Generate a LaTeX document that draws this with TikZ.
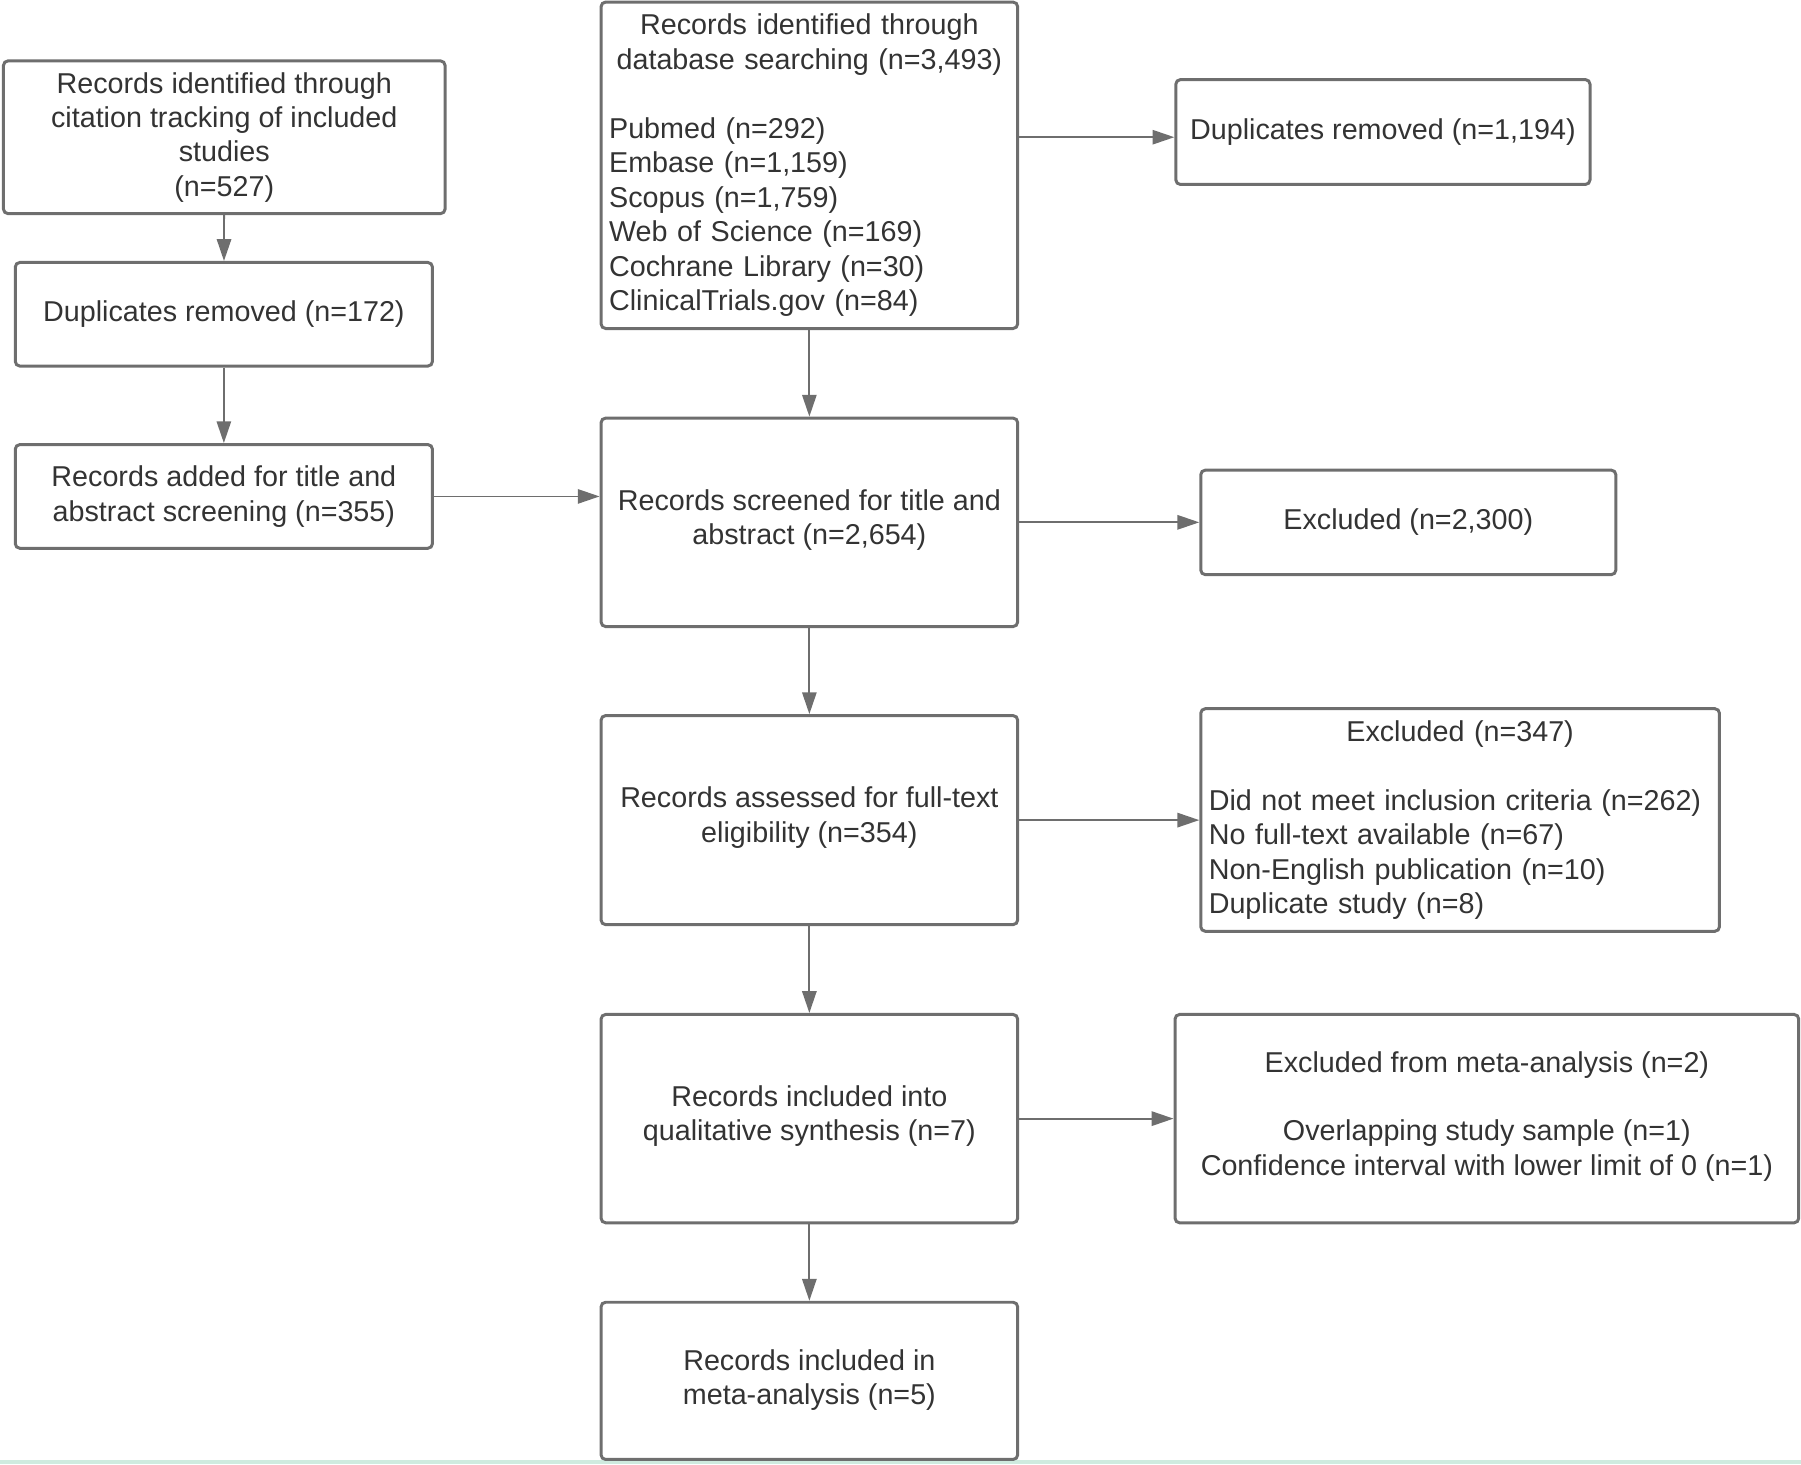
\documentclass[tikz,border=0pt]{standalone}
\usepackage{fontspec}
\setmainfont{Liberation Sans}
\usetikzlibrary{arrows.meta}
\definecolor{bordergray}{HTML}{6E6E6E}
\definecolor{txtgray}{HTML}{333333}
\definecolor{mint}{HTML}{CFEBDF}
\begin{document}
\begin{tikzpicture}[x=1pt,y=-1pt,
  box/.style={draw=bordergray, line width=2.6pt, rounded corners=4pt, text=txtgray,
    font=\fontsize{25}{30}\selectfont, align=center, inner sep=0pt},
  raised/.style={text depth=9.3pt},
  arr/.style={draw=bordergray, line width=1.6pt, -{Triangle[length=19pt,width=12.5pt]}}]
\useasboundingbox (0,0) rectangle (1568,1275);
\fill[mint] (0,1271.5) rectangle (1568,1275);

% left column
\node[box, minimum width=384.5pt, minimum height=133pt] (A) at (195.25,119.5)
  {Records identified through\\citation tracking of included\\studies\\(n=527)};
\node[box, minimum width=363.2pt, minimum height=90.2pt] (B) at (194.9,273.6)
  {Duplicates removed (n=172)};
\node[box, minimum width=363.2pt, minimum height=90.3pt] (C) at (194.9,432.2)
  {Records added for title and\\abstract screening (n=355)};

% centre column
\node[box, minimum width=362.7pt, minimum height=284.2pt, text width=348.7pt, align=left] (D) at (704.65,143.9)
  {\makebox[348.7pt][c]{Records identified through}\\
   \makebox[348.7pt][c]{database searching (n=3,493)}\\[30pt]
   Pubmed (n=292)\\
   Embase (n=1,159)\\
   Scopus (n=1,759)\\
   Web of Science (n=169)\\
   Cochrane Library (n=30)\\
   ClinicalTrials.gov (n=84)};
\node[box, raised, minimum width=362.7pt, minimum height=181.5pt] (E) at (704.65,454.75)
  {Records screened for title and\\abstract (n=2,654)};
\node[box, raised, minimum width=362.7pt, minimum height=182pt] (F) at (704.65,714)
  {Records assessed for full-text\\eligibility (n=354)};
\node[box, raised, minimum width=362.7pt, minimum height=181.4pt] (G) at (704.65,973.9)
  {Records included into\\qualitative synthesis (n=7)};
\node[box, minimum width=362.7pt, minimum height=136.9pt, text depth=7pt] (H) at (704.65,1202.2)
  {Records included in\\meta-analysis (n=5)};

% right column
\node[box, minimum width=360.6pt, minimum height=91.3pt] (I) at (1204,114.95)
  {Duplicates removed (n=1,194)};
\node[box, minimum width=361.4pt, minimum height=91pt] (J) at (1226.1,454.8)
  {Excluded (n=2,300)};
\node[box, minimum width=451.6pt, minimum height=193.8pt, text width=437.6pt, align=left] (K) at (1271.2,713.9)
  {\makebox[437.6pt][c]{Excluded (n=347)}\\[30pt]
   Did not meet inclusion criteria (n=262)\\
   No full-text available (n=67)\\
   Non-English publication (n=10)\\
   Duplicate study (n=8)};
\node[box, raised, minimum width=543pt, minimum height=181.4pt] (L) at (1294.5,973.9)
  {Excluded from meta-analysis (n=2)\\[30pt]
   Overlapping study sample (n=1)\\
   Confidence interval with lower limit of 0 (n=1)};

% connectors
\coordinate (dI) at ([yshift=-4.5pt]I.west);
\draw[arr] (A) -- (B);
\draw[arr] (B) -- (C);
\draw[arr] (C.east) -- (C.east -| E.west);
\draw[arr] (D.east |- dI) -- (dI);
\draw[arr] (D) -- (E);
\draw[arr] (E.east) -- (E.east -| J.west);
\draw[arr] (E) -- (F);
\draw[arr] (F.east) -- (F.east -| K.west);
\draw[arr] (F) -- (G);
\draw[arr] (G.east) -- (G.east -| L.west);
\draw[arr] (G) -- (H);
\end{tikzpicture}
\end{document}
